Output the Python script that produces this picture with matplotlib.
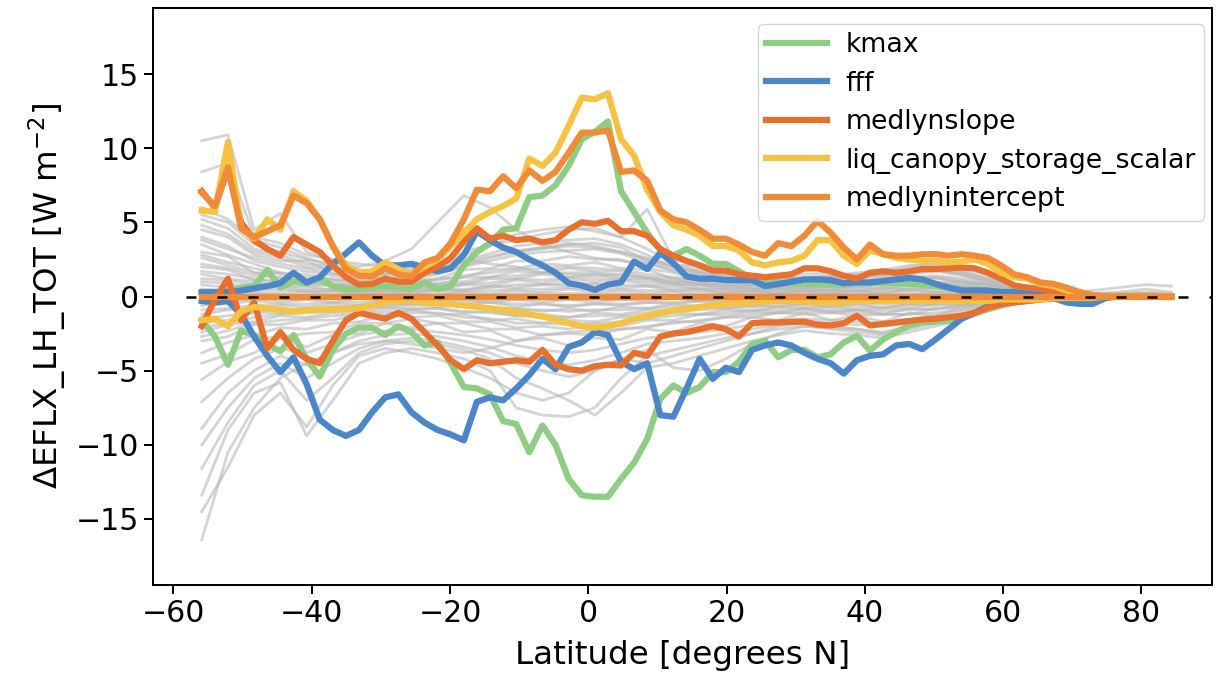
import numpy as np
import matplotlib
matplotlib.use('Agg')
import matplotlib.pyplot as plt

# latitude of the land rows (1.9 degree grid, 56S to 84N)
lat = np.round(-55.895 + 1.8947 * np.arange(75), 2)
lat_gray = lat[::2]

# zonal mean change in latent heat flux for the min / max perturbation of each parameter
kmax_max = [0.3, 0.3, 0.35, 0.6, 0.7, 1.8, 0.6, 1.0, 0.9, 1.2, 0.7, 0.5, 0.5, 0.6, 0.7, 0.6, 0.5, 0.95, 0.5,
            0.7, 2.1, 3.0, 3.6, 4.5, 4.6, 6.7, 6.8, 7.5, 8.8, 10.6, 11.1, 11.8, 7.1, 5.7, 4.3, 3.1, 2.75, 3.2,
            2.75, 2.2, 2.2, 1.7, 1.2, 0.95, 0.95, 0.85, 0.85, 0.8, 0.8, 0.8,
            0.9, 0.9, 0.9, 0.9, 0.85, 0.8, 0.7, 0.6, 0.5, 0.45, 0.4, 0.3, 0.25, 0.2, 0.1, 0.05, 0.0, 0.0, 0.0,
            0.0, 0.0, 0.0, 0.0, 0.0, 0.0]
kmax_min = [-1.6, -2.7, -4.6, -2.3, -2.6, -3.2, -3.7, -2.6, -4.2, -5.4, -3.6, -2.5, -2.1, -2.1, -2.6, -2.0, -2.4,
            -3.3, -3.1,
            -4.5, -6.1, -6.2, -6.6, -8.4, -8.6, -10.5, -8.7, -10.0, -12.3, -13.4, -13.5, -13.5, -12.3, -11.2,
            -9.6, -6.9, -6.0, -6.5, -6.1, -5.1, -5.1, -4.4, -3.2, -3.0, -4.1, -3.6, -3.6, -4.1, -3.9, -3.1,
            -2.65, -3.65, -2.9, -2.4, -1.95, -1.75, -1.7, -1.65, -1.3, -1.1, -0.85, -0.6, -0.4, -0.3, -0.2,
            -0.1, -0.05, 0.0, 0.0, 0.0, 0.0, 0.0, 0.0, 0.0, 0.0]
fff_max = [0.28, 0.28, 0.3, 0.4, 0.55, 0.7, 0.9, 1.6, 0.95, 1.3, 2.2, 2.9, 3.65, 2.75, 2.1, 2.1, 2.2, 1.95, 1.7,
           1.9, 2.8, 4.4, 3.8,
           3.3, 3.0, 2.5, 2.1, 1.6, 0.9, 0.74, 0.45, 0.8, 0.95, 2.35, 1.85, 2.95, 2.25, 1.35, 1.2, 1.2, 1.1,
           1.1, 1.1, 0.7, 0.84, 1.0, 1.15, 1.15, 1.1, 0.9,
           0.95, 0.95, 1.05, 1.15, 1.25, 1.15, 0.85, 0.6, 0.4, 0.4, 0.4, 0.3, 0.3, 0.2, 0.1, -0.1, -0.4, -0.5,
           -0.5, -0.1, 0.0, 0.0, 0.0, 0.0, 0.0]
fff_min = [-0.3, -0.4, -0.3, -1.2, -2.7, -4.0, -5.1, -4.1, -5.9, -8.3, -9.0, -9.4, -9.0, -7.8, -6.8, -6.6, -7.8,
           -8.5, -9.0, -9.3, -9.7,
           -7.1, -6.8, -7.0, -6.2, -5.3, -4.2, -4.9, -3.4, -3.1, -2.4, -2.6, -4.4, -4.9, -4.5, -8.0, -8.1,
           -6.2, -4.2, -5.55, -4.8, -5.1, -3.6, -3.3, -3.1, -3.3, -3.8, -4.2, -4.5, -5.2,
           -4.3, -4.0, -3.9, -3.3, -3.2, -3.55, -2.9, -2.2, -1.5, -1.1, -0.65, -0.4, -0.3, -0.2, -0.1, -0.05,
           0.0, 0.0, 0.0, 0.0, 0.0, 0.0, 0.0, 0.0, 0.0]
medlynslope_max = [7.1, 6.0, 8.6, 5.0, 3.8, 3.2, 2.75, 4.0, 3.5, 3.0, 2.1, 1.3, 0.8, 0.85, 1.2, 1.0, 1.0, 1.6,
                   2.0,
                   2.6, 3.7, 4.6, 3.9, 4.1, 3.8, 3.9, 3.65, 3.8, 4.5, 5.0, 4.9, 5.1, 4.4, 4.4, 4.1, 3.2, 2.75,
                   2.4, 2.1, 1.75, 1.75, 1.5, 1.4, 1.3, 1.4, 1.5, 1.9, 1.9, 1.7, 1.4,
                   1.2, 1.6, 1.7, 1.6, 1.7, 1.85, 1.85, 1.9, 1.95, 1.9, 1.6, 1.2, 0.75, 0.6, 0.5, 0.3, 0.15,
                   0.1, 0.05, 0.0, 0.0, 0.0, 0.0, 0.0, 0.0]
medlynslope_min = [-2.0, -0.2, 1.2, -1.6, -0.4, -3.5, -2.4, -3.6, -4.2, -4.5, -3.0, -1.6, -1.1, -1.3, -1.5,
                   -1.1, -1.5, -2.4, -3.3,
                   -4.3, -4.9, -4.3, -4.5, -4.4, -4.3, -4.4, -3.6, -4.6, -4.9, -5.0, -4.7, -4.6, -4.65, -3.8,
                   -4.0, -2.7, -2.5, -2.4, -2.2, -2.0, -2.2, -2.7, -1.8, -1.75, -1.75, -1.7, -1.7, -1.9, -1.95,
                   -1.8,
                   -1.3, -1.95, -1.85, -1.75, -1.65, -1.55, -1.5, -1.4, -1.3, -1.1, -0.75, -0.5, -0.4, -0.3,
                   -0.2, -0.15, -0.08, 0.0, 0.0, 0.0, 0.0, 0.0, 0.0, 0.0, 0.0]
liq_max = [5.8, 5.7, 10.4, 4.6, 3.9, 5.2, 4.5, 7.1, 6.45, 5.2, 3.4, 2.1, 1.6, 1.7, 2.3, 1.85, 1.5, 2.0, 2.5, 3.4,
           4.3,
           5.2, 5.7, 6.1, 6.6, 9.3, 8.8, 9.7, 11.5, 13.4, 13.3, 13.7, 10.6, 9.5, 7.2, 5.7, 4.8, 4.5, 4.1, 3.4,
           3.4, 3.1, 2.3, 2.1, 2.3, 2.4, 2.75, 3.8, 3.8, 2.75,
           2.2, 3.1, 2.85, 2.6, 2.5, 2.4, 2.4, 2.3, 2.35, 2.5, 2.2, 1.6, 1.3, 1.2, 0.85, 0.7, 0.4, 0.2, 0.1,
           0.0, 0.0, 0.0, 0.0, 0.0, 0.0]
liq_min = [-1.6, -1.5, -2.0, -1.0, -0.7, -0.8, -0.9, -1.0, -0.95, -0.9, -0.85, -0.85, -0.8, -0.6, -0.4, -0.3,
           -0.3, -0.4, -0.45, -0.5, -0.6, -0.7, -0.8, -0.9, -1.05,
           -1.2, -1.35, -1.55, -1.8, -2.0, -2.1, -2.0, -1.8, -1.5, -1.3, -1.1, -0.95, -0.85, -0.7, -0.6, -0.5,
           -0.45, -0.4, -0.35, -0.3, -0.3, -0.35, -0.4, -0.4, -0.4,
           -0.3, -0.3, -0.3, -0.3, -0.3, -0.3, -0.3, -0.3, -0.3, -0.3, -0.3, -0.2, -0.2, -0.2, -0.2, -0.1,
           -0.1, -0.1, -0.1, 0.0, 0.0, 0.0, 0.0, 0.0, 0.0]
medlynintercept_max = [7.0, 6.1, 8.7, 4.6, 4.0, 4.4, 4.8, 6.8, 6.3, 5.2, 3.4, 1.85, 1.4, 1.35, 1.9, 1.5, 1.35,
                       2.3, 2.6, 3.6, 5.2,
                       7.2, 7.1, 8.1, 7.3, 8.5, 7.8, 8.4, 9.7, 11.05, 11.05, 11.2, 8.4, 8.5, 7.8, 5.8, 5.2,
                       5.0, 4.5, 3.9, 3.9, 3.5, 3.0, 2.75, 3.6, 3.4, 4.1, 5.1, 4.3, 3.3,
                       2.5, 3.5, 2.85, 2.75, 2.75, 2.85, 2.85, 2.75, 2.85, 2.75, 2.6, 2.1, 1.5, 1.3, 0.95,
                       0.85, 0.6, 0.3, 0.1, 0.0, 0.0, 0.0, 0.0, 0.0, 0.0]
medlynintercept_min = [0.0, 0.0, 0.0, 0.0, 0.0, 0.0, 0.0, 0.0, 0.0, 0.0, 0.0, 0.0, 0.0, 0.0, 0.0,
                       0.0, 0.0, 0.0, 0.0, 0.0, 0.0, 0.0, 0.0, 0.0, 0.0, 0.0, 0.0, 0.0, 0.0, 0.0,
                       0.0, 0.0, 0.0, 0.0, 0.0, 0.0, 0.0, 0.0, 0.0, 0.0, 0.0, 0.0, 0.0, 0.0, 0.0,
                       0.0, 0.0, 0.0, 0.0, 0.0, 0.0, 0.0, 0.0, 0.0, 0.0, 0.0, 0.0, 0.0, 0.0, 0.0,
                       0.0, 0.0, 0.0, 0.0, 0.0, 0.0, 0.0, 0.0, 0.0, 0.0, 0.0, 0.0, 0.0, 0.0, 0.0]

# all other parameters, every second latitude row
gray_runs = [
    [10.5, 10.9, 4.5, 5.6, 3.0, 2.4, 2.2, 2.0, 2.3, 2.0, 2.5, 2.2, 2.0, 1.6, 1.5, 1.4, 1.5, 1.2, 1.0, 0.9, 0.8,
     0.8, 0.7, 0.8, 0.9, 1.0, 1.0, 1.1, 1.2, 1.0, 0.8, 0.5, 0.3, 0.2, 0.1, 0.1, 0.1, 0.1],
    [8.4, 9.0, 4.0, 3.6, 2.8, 2.5, 1.8, 1.6, 1.9, 2.4, 4.6, 3.8, 3.0, 3.2, 3.5, 3.6, 3.3, 2.4, 2.0, 1.6, 1.4,
     1.2, 1.4, 1.5, 1.6, 1.4, 1.5, 1.7, 1.9, 1.6, 1.2, 0.8, 0.5, 0.3, 0.2, 0.2, 0.2, 0.1],
    [5.5, 5.0, 3.5, 3.0, 2.5, 2.2, 2.0, 2.4, 3.2, 5.0, 6.8, 6.0, 4.5, 3.5, 3.0, 2.6, 2.4, 2.2, 1.8, 1.5, 1.3,
     1.2, 1.0, 1.1, 1.2, 1.3, 1.4, 1.6, 1.8, 1.5, 1.0, 0.6, 0.4, 0.2, 0.1, 0.1, 0.2, 0.1],
    [4.8, 4.2, 3.0, 2.6, 2.0, 1.8, 1.6, 1.5, 1.8, 2.2, 3.0, 3.5, 3.8, 4.2, 4.5, 4.6, 4.0, 5.9, 2.5, 2.0, 1.6,
     1.3, 1.2, 1.3, 1.4, 1.5, 1.6, 2.0, 2.2, 1.8, 1.2, 0.7, 0.4, 0.2, 0.2, 0.3, 0.5, 0.3],
    [5.2, 4.6, 3.2, 2.8, 2.2, 2.0, 1.5, 1.4, 1.6, 2.0, 2.8, 3.4, 4.2, 4.5, 4.7, 4.4, 4.0, 3.2, 2.2, 1.8, 1.5,
     1.4, 1.3, 1.2, 1.3, 1.4, 1.5, 1.8, 2.0, 1.7, 1.1, 0.6, 0.3, 0.2, 0.1, 0.2, 0.3, 0.2],
    [4.5, 4.0, 2.8, 2.4, 2.4, 1.6, 1.3, 1.2, 1.4, 1.8, 2.4, 2.9, 3.4, 3.6, 3.8, 3.9, 3.5, 2.8, 2.0, 1.6, 1.3,
     1.1, 1.0, 1.0, 1.1, 1.2, 1.3, 1.5, 1.7, 1.4, 0.9, 0.5, 0.3, 0.1, 0.1, 0.1, 0.2, 0.1],
    [4.0, 3.4, 2.4, 2.0, 1.7, 1.4, 1.2, 1.0, 1.2, 1.5, 2.0, 2.4, 2.8, 3.0, 3.1, 3.2, 2.9, 2.3, 1.7, 1.4, 1.1,
     1.0, 0.9, 0.9, 1.0, 1.0, 1.1, 1.3, 1.4, 1.2, 0.8, 0.4, 0.2, 0.1, 0.1, 0.1, 0.2, 0.1],
    [3.5, 2.8, 2.2, 1.6, 1.5, 1.1, 1.1, 0.8, 1.1, 1.2, 1.8, 1.9, 2.4, 2.4, 2.7, 2.5, 2.5, 1.9, 1.6, 1.1, 1.1,
     0.8, 0.9, 0.7, 1.0, 0.8, 1.1, 1.0, 1.3, 0.9, 0.8, 0.3, 0.3, 0.1, 0.1, 0.0, 0.2, 0.1],
    [3.0, 2.7, 1.6, 1.6, 1.1, 1.1, 0.8, 0.9, 0.8, 1.2, 1.3, 1.8, 1.9, 2.2, 2.1, 2.3, 1.9, 1.8, 1.2, 1.1, 0.7,
     0.8, 0.6, 0.8, 0.7, 0.9, 0.8, 1.1, 0.9, 1.0, 0.5, 0.4, 0.1, 0.2, 0.0, 0.1, 0.0, 0.1],
    [2.6, 2.1, 1.6, 1.2, 1.1, 0.8, 0.8, 0.6, 0.9, 0.8, 1.3, 1.3, 1.7, 1.6, 1.9, 1.7, 1.7, 1.3, 1.2, 0.8, 0.8,
     0.5, 0.7, 0.5, 0.8, 0.6, 0.9, 0.8, 1.0, 0.7, 0.6, 0.2, 0.2, 0.0, 0.1, 0.0, 0.1, 0.0],
    [2.0, 1.8, 1.1, 1.1, 0.7, 0.8, 0.5, 0.6, 0.5, 0.8, 0.8, 1.2, 1.2, 1.5, 1.3, 1.5, 1.2, 1.2, 0.8, 0.8, 0.5,
     0.6, 0.4, 0.6, 0.4, 0.7, 0.5, 0.8, 0.6, 0.7, 0.3, 0.3, 0.0, 0.1, 0.0, 0.0, 0.1, 0.0],
    [1.5, 1.2, 1.0, 0.7, 0.7, 0.4, 0.5, 0.3, 0.5, 0.4, 0.8, 0.7, 1.1, 0.9, 1.2, 1.0, 1.1, 0.8, 0.8, 0.5, 0.5,
     0.3, 0.5, 0.3, 0.5, 0.3, 0.6, 0.4, 0.6, 0.3, 0.4, 0.1, 0.1, 0.0, 0.0, 0.0, 0.0, 0.0],
    [1.0, 0.9, 0.5, 0.6, 0.3, 0.4, 0.2, 0.4, 0.2, 0.5, 0.4, 0.7, 0.6, 0.8, 0.7, 0.9, 0.6, 0.7, 0.4, 0.5, 0.2,
     0.4, 0.2, 0.4, 0.2, 0.4, 0.2, 0.5, 0.3, 0.4, 0.1, 0.2, 0.0, 0.0, 0.0, 0.0, 0.0, 0.0],
    [0.5, 0.4, 0.3, 0.2, 0.3, 0.1, 0.2, 0.1, 0.2, 0.1, 0.3, 0.2, 0.4, 0.3, 0.5, 0.3, 0.4, 0.2, 0.3, 0.1, 0.2,
     0.1, 0.2, 0.1, 0.2, 0.1, 0.2, 0.1, 0.3, 0.1, 0.1, 0.0, 0.1, 0.0, 0.0, 0.0, 0.0, 0.0],
    [3.8, 3.2, 2.6, 2.2, 1.9, 1.5, 1.4, 1.2, 1.3, 1.6, 2.1, 2.6, 3.0, 3.3, 3.6, 3.4, 3.0, 2.6, 2.0, 2.2, 1.8,
     1.5, 1.3, 1.2, 1.4, 1.6, 1.8, 2.1, 2.2, 2.0, 1.4, 0.8, 0.4, 0.3, 0.4, 0.6, 0.8, 0.7],
    [6.0, 5.2, 3.8, 3.3, 2.6, 2.0, 1.7, 1.5, 1.6, 1.9, 2.3, 2.7, 3.1, 3.3, 3.4, 3.3, 3.0, 2.5, 2.0, 1.7, 1.5,
     1.3, 1.2, 1.2, 1.3, 1.4, 1.5, 1.7, 1.8, 1.5, 1.0, 0.6, 0.3, 0.2, 0.1, 0.1, 0.2, 0.1],
    [2.8, 2.3, 1.9, 1.5, 1.3, 1.2, 1.0, 0.9, 1.0, 1.1, 1.4, 1.6, 1.8, 1.9, 2.0, 1.9, 1.8, 1.5, 1.3, 1.1, 1.0,
     0.9, 0.8, 0.8, 0.9, 1.0, 1.1, 1.2, 1.3, 1.1, 0.7, 0.4, 0.2, 0.1, 0.1, 0.1, 0.1, 0.0],
    [2.2, 1.9, 1.4, 1.3, 1.0, 0.9, 0.7, 0.8, 0.7, 0.9, 1.0, 1.3, 1.4, 1.6, 1.6, 1.6, 1.4, 1.3, 1.0, 0.9, 0.7,
     0.7, 0.6, 0.7, 0.7, 0.8, 0.8, 0.9, 0.9, 0.8, 0.5, 0.3, 0.1, 0.1, 0.0, 0.0, 0.0, 0.0],
    [1.7, 1.5, 1.2, 0.9, 0.9, 0.7, 0.6, 0.5, 0.6, 0.6, 0.9, 0.9, 1.2, 1.1, 1.3, 1.2, 1.2, 1.0, 0.9, 0.7, 0.6,
     0.5, 0.5, 0.5, 0.6, 0.5, 0.6, 0.6, 0.7, 0.5, 0.4, 0.2, 0.1, 0.0, 0.0, 0.0, 0.0, 0.0],
    [1.2, 1.1, 0.8, 0.7, 0.5, 0.5, 0.4, 0.4, 0.4, 0.5, 0.5, 0.6, 0.8, 0.8, 0.9, 0.8, 0.8, 0.7, 0.6, 0.5, 0.4,
     0.4, 0.3, 0.4, 0.4, 0.4, 0.4, 0.5, 0.5, 0.4, 0.2, 0.1, 0.1, 0.0, 0.0, 0.0, 0.0, 0.0],
    [0.8, 0.6, 0.5, 0.4, 0.4, 0.3, 0.3, 0.2, 0.3, 0.3, 0.4, 0.4, 0.5, 0.5, 0.6, 0.5, 0.5, 0.4, 0.4, 0.3, 0.3,
     0.2, 0.2, 0.2, 0.3, 0.2, 0.3, 0.3, 0.3, 0.2, 0.2, 0.1, 0.0, 0.0, 0.0, 0.0, 0.0, 0.0],
    [0.3, 0.2, 0.2, 0.1, 0.1, 0.1, 0.1, 0.1, 0.1, 0.1, 0.2, 0.1, 0.2, 0.2, 0.2, 0.2, 0.2, 0.1, 0.1, 0.1, 0.1,
     0.1, 0.1, 0.1, 0.1, 0.1, 0.1, 0.1, 0.1, 0.1, 0.0, 0.0, 0.0, 0.0, 0.0, 0.0, 0.0, 0.0],
    [-16.4, -10.5, -7.5, -5.5, -4.5, -3.8, -3.2, -3.0, -3.2, -3.5, -3.8, -3.5, -3.0, -2.6, -2.4, -2.3, -2.2,
     -2.0, -1.8, -1.6, -1.4, -1.2, -1.1, -1.0, -1.0, -1.1, -1.2, -1.2, -1.1, -0.9, -0.6, -0.3, -0.2, -0.1, 0.0,
     0.0, 0.0, 0.0],
    [-14.5, -11.5, -8.0, -6.5, -8.8, -6.0, -4.0, -3.5, -3.8, -4.2, -4.8, -5.5, -6.5, -7.0, -6.5, -5.0, -4.2,
     -4.5, -4.0, -3.5, -3.0, -2.5, -2.2, -2.0, -2.2, -2.4, -2.6, -2.2, -1.8, -1.4, -0.9, -0.5, -0.3, -0.1, 0.0,
     0.0, 0.0, 0.0],
    [-13.4, -9.0, -6.5, -5.8, -9.4, -7.0, -4.5, -3.8, -3.5, -3.8, -4.2, -5.0, -7.5, -8.0, -8.1, -7.5, -5.5,
     -4.0, -3.6, -3.2, -2.8, -2.5, -2.0, -1.8, -2.0, -2.2, -2.4, -2.0, -1.6, -1.2, -0.8, -0.4, -0.2, -0.1, 0.0,
     0.0, 0.0, 0.0],
    [-11.6, -8.5, -6.0, -5.0, -7.0, -5.5, -3.8, -3.2, -3.0, -3.2, -3.6, -4.2, -5.5, -6.2, -7.0, -8.0, -6.5,
     -4.8, -4.5, -4.0, -3.5, -3.0, -2.6, -2.3, -2.5, -2.6, -2.8, -2.4, -2.0, -1.6, -1.0, -0.5, -0.2, -0.1, 0.0,
     0.0, 0.0, 0.0],
    [-10.0, -7.5, -5.5, -4.5, -5.5, -4.5, -3.5, -3.0, -2.8, -3.0, -3.4, -3.8, -4.5, -5.0, -5.4, -5.0, -4.2,
     -3.6, -4.8, -5.0, -4.2, -3.2, -2.5, -2.0, -2.1, -2.2, -2.5, -2.0, -1.7, -1.3, -0.8, -0.4, -0.2, -0.1, 0.0,
     0.0, 0.0, 0.0],
    [-8.9, -6.5, -5.0, -4.0, -4.6, -3.8, -3.0, -2.6, -2.5, -2.7, -3.0, -3.4, -4.0, -4.4, -4.6, -4.3, -3.8,
     -3.2, -3.0, -2.8, -2.5, -2.2, -1.9, -1.7, -1.8, -1.9, -2.0, -1.8, -1.5, -1.2, -0.7, -0.4, -0.2, -0.1, 0.0,
     0.0, 0.0, 0.0],
    [-7.1, -5.5, -4.2, -3.5, -3.8, -3.2, -2.6, -2.3, -2.2, -2.4, -2.6, -2.9, -3.3, -3.6, -3.8, -3.6, -3.2,
     -2.8, -2.6, -2.4, -2.2, -1.9, -1.7, -1.5, -1.6, -1.7, -1.8, -1.6, -1.3, -1.0, -0.6, -0.3, -0.1, 0.0, 0.0,
     0.0, 0.0, 0.0],
    [-5.6, -4.4, -3.8, -2.8, -3.4, -2.6, -2.5, -1.8, -2.1, -1.8, -2.4, -2.3, -3.0, -2.8, -3.3, -2.8, -2.9,
     -2.2, -2.4, -1.8, -2.0, -1.4, -1.6, -1.1, -1.6, -1.3, -1.7, -1.1, -1.3, -0.7, -0.6, -0.2, -0.2, 0.0, 0.0,
     0.0, 0.0, 0.0],
    [-4.5, -3.9, -2.9, -2.7, -2.5, -2.4, -1.8, -1.8, -1.5, -1.8, -1.8, -2.2, -2.2, -2.6, -2.5, -2.6, -2.2,
     -2.1, -1.7, -1.7, -1.4, -1.4, -1.1, -1.2, -1.1, -1.3, -1.2, -1.2, -0.8, -0.8, -0.3, -0.3, -0.1, -0.1, 0.0,
     0.0, 0.0, 0.0],
    [-3.8, -3.1, -2.6, -2.1, -2.2, -1.8, -1.7, -1.3, -1.4, -1.3, -1.7, -1.7, -2.1, -2.0, -2.2, -1.9, -2.0,
     -1.6, -1.6, -1.2, -1.3, -1.0, -1.1, -0.8, -1.1, -0.9, -1.2, -0.8, -0.9, -0.5, -0.5, -0.1, -0.1, 0.0, 0.0,
     0.0, 0.0, 0.0],
    [-3.0, -2.7, -1.9, -1.9, -1.6, -1.6, -1.2, -1.2, -0.9, -1.2, -1.2, -1.6, -1.5, -1.8, -1.6, -1.7, -1.4,
     -1.4, -1.1, -1.2, -0.9, -1.0, -0.7, -0.8, -0.7, -0.9, -0.8, -0.8, -0.5, -0.6, -0.2, -0.2, 0.0, -0.1, 0.0,
     0.0, 0.0, 0.0],
    [-2.4, -1.9, -1.7, -1.3, -1.4, -1.1, -1.1, -0.8, -0.9, -0.8, -1.1, -1.0, -1.3, -1.2, -1.4, -1.1, -1.2,
     -0.9, -1.0, -0.7, -0.8, -0.6, -0.7, -0.5, -0.7, -0.5, -0.8, -0.5, -0.6, -0.3, -0.3, -0.1, -0.1, 0.0, 0.0,
     0.0, 0.0, 0.0],
    [-1.8, -1.6, -1.1, -1.1, -0.9, -1.0, -0.6, -0.7, -0.5, -0.7, -0.6, -0.9, -0.8, -1.0, -0.8, -1.0, -0.7,
     -0.8, -0.5, -0.7, -0.4, -0.6, -0.3, -0.5, -0.3, -0.5, -0.4, -0.5, -0.2, -0.4, -0.1, -0.2, 0.0, 0.0, 0.0,
     0.0, 0.0, 0.0],
    [-1.2, -0.9, -0.9, -0.6, -0.7, -0.5, -0.6, -0.3, -0.5, -0.3, -0.6, -0.4, -0.7, -0.5, -0.7, -0.5, -0.6,
     -0.4, -0.5, -0.3, -0.4, -0.2, -0.4, -0.2, -0.4, -0.2, -0.4, -0.2, -0.3, -0.1, -0.2, 0.0, -0.1, 0.0, 0.0,
     0.0, 0.0, 0.0],
    [-0.6, -0.5, -0.3, -0.4, -0.2, -0.4, -0.1, -0.3, -0.1, -0.3, -0.2, -0.4, -0.2, -0.4, -0.2, -0.4, -0.2,
     -0.3, -0.1, -0.3, -0.1, -0.2, -0.1, -0.2, -0.1, -0.2, -0.1, -0.2, -0.1, -0.1, 0.0, -0.1, 0.0, 0.0, 0.0,
     0.0, 0.0, 0.0],
    [-2.7, -2.3, -1.8, -1.6, -1.5, -1.3, -1.2, -1.0, -1.1, -1.1, -1.4, -1.5, -1.8, -1.8, -1.9, -1.8, -1.7,
     -1.5, -1.3, -1.2, -1.1, -0.9, -0.9, -0.8, -0.9, -0.9, -1.0, -0.9, -0.8, -0.6, -0.4, -0.2, -0.1, 0.0, 0.0,
     0.0, 0.0, 0.0],
    [-2.1, -1.8, -1.4, -1.2, -1.1, -1.0, -0.9, -0.7, -0.8, -0.8, -1.0, -1.1, -1.3, -1.4, -1.4, -1.3, -1.3,
     -1.1, -1.0, -0.9, -0.8, -0.7, -0.6, -0.6, -0.6, -0.7, -0.7, -0.6, -0.5, -0.4, -0.3, -0.1, 0.0, 0.0, 0.0,
     0.0, 0.0, 0.0],
    [-1.5, -1.3, -1.0, -0.9, -0.8, -0.7, -0.6, -0.5, -0.6, -0.5, -0.7, -0.7, -0.9, -0.9, -1.0, -0.9, -0.9,
     -0.8, -0.7, -0.6, -0.5, -0.5, -0.4, -0.4, -0.4, -0.4, -0.5, -0.4, -0.4, -0.3, -0.2, -0.1, 0.0, 0.0, 0.0,
     0.0, 0.0, 0.0],
    [-0.9, -0.8, -0.6, -0.5, -0.5, -0.4, -0.4, -0.3, -0.3, -0.3, -0.4, -0.4, -0.5, -0.5, -0.6, -0.5, -0.5,
     -0.4, -0.4, -0.3, -0.3, -0.3, -0.2, -0.2, -0.2, -0.2, -0.3, -0.2, -0.2, -0.2, -0.1, 0.0, 0.0, 0.0, 0.0,
     0.0, 0.0, 0.0],
    [-0.3, -0.3, -0.2, -0.2, -0.2, -0.1, -0.1, -0.1, -0.1, -0.1, -0.2, -0.2, -0.2, -0.2, -0.2, -0.2, -0.2,
     -0.1, -0.1, -0.1, -0.1, -0.1, -0.1, -0.1, -0.1, -0.1, -0.1, -0.1, -0.1, 0.0, 0.0, 0.0, 0.0, 0.0, 0.0,
     0.0, 0.0, 0.0],
]

params = ['kmax', 'fff', 'medlynslope', 'liq_canopy_storage_scalar', 'medlynintercept']
colors = ['#8fcd84', '#4a86c8', '#e8702f', '#f5c242', '#f08c37']
runs = {
    'kmax': (kmax_min, kmax_max),
    'fff': (fff_min, fff_max),
    'medlynslope': (medlynslope_min, medlynslope_max),
    'liq_canopy_storage_scalar': (liq_min, liq_max),
    'medlynintercept': (medlynintercept_min, medlynintercept_max),
}

fig = plt.figure(figsize=(12.23, 6.74), dpi=100)
ax = fig.add_axes([153 / 1223, 1 - 585 / 674, 1059 / 1223, 577 / 674])

for vals in gray_runs:
    ax.plot(lat_gray, vals, color='#b8b8b8', lw=2.0, alpha=0.6, zorder=1)

for name, col in zip(params, colors):
    lo, hi = runs[name]
    ax.plot(lat, hi, color=col, lw=4.5, label=name, zorder=2)
    ax.plot(lat, lo, color=col, lw=4.5, zorder=2)

ax.plot([-58.2, 100], [0, 0], color='k', lw=1.8, dashes=(4, 8.4), zorder=5)

ax.set_xlim(-62.95, 90.2)
ax.set_ylim(-19.45, 19.45)
ax.set_xlabel('Latitude [degrees N]', fontsize=23.4, labelpad=9)
ax.set_ylabel('ΔEFLX_LH_TOT [W m$^{-2}$]', fontsize=23.4, labelpad=5)
ax.tick_params(labelsize=21.6, length=6.3, width=1.44)
for sp in ax.spines.values():
    sp.set_linewidth(1.44)

leg = ax.legend(loc='upper right', bbox_to_anchor=(1.0, 1.0 - 8 / 577), fontsize=19.3,
                handlelength=2.25, handletextpad=0.7, borderpad=0.3, labelspacing=0.47,
                borderaxespad=0.3)
for ln in leg.get_lines():
    ln.set_linewidth(4.5)

fig.savefig('out.png', dpi=100)
